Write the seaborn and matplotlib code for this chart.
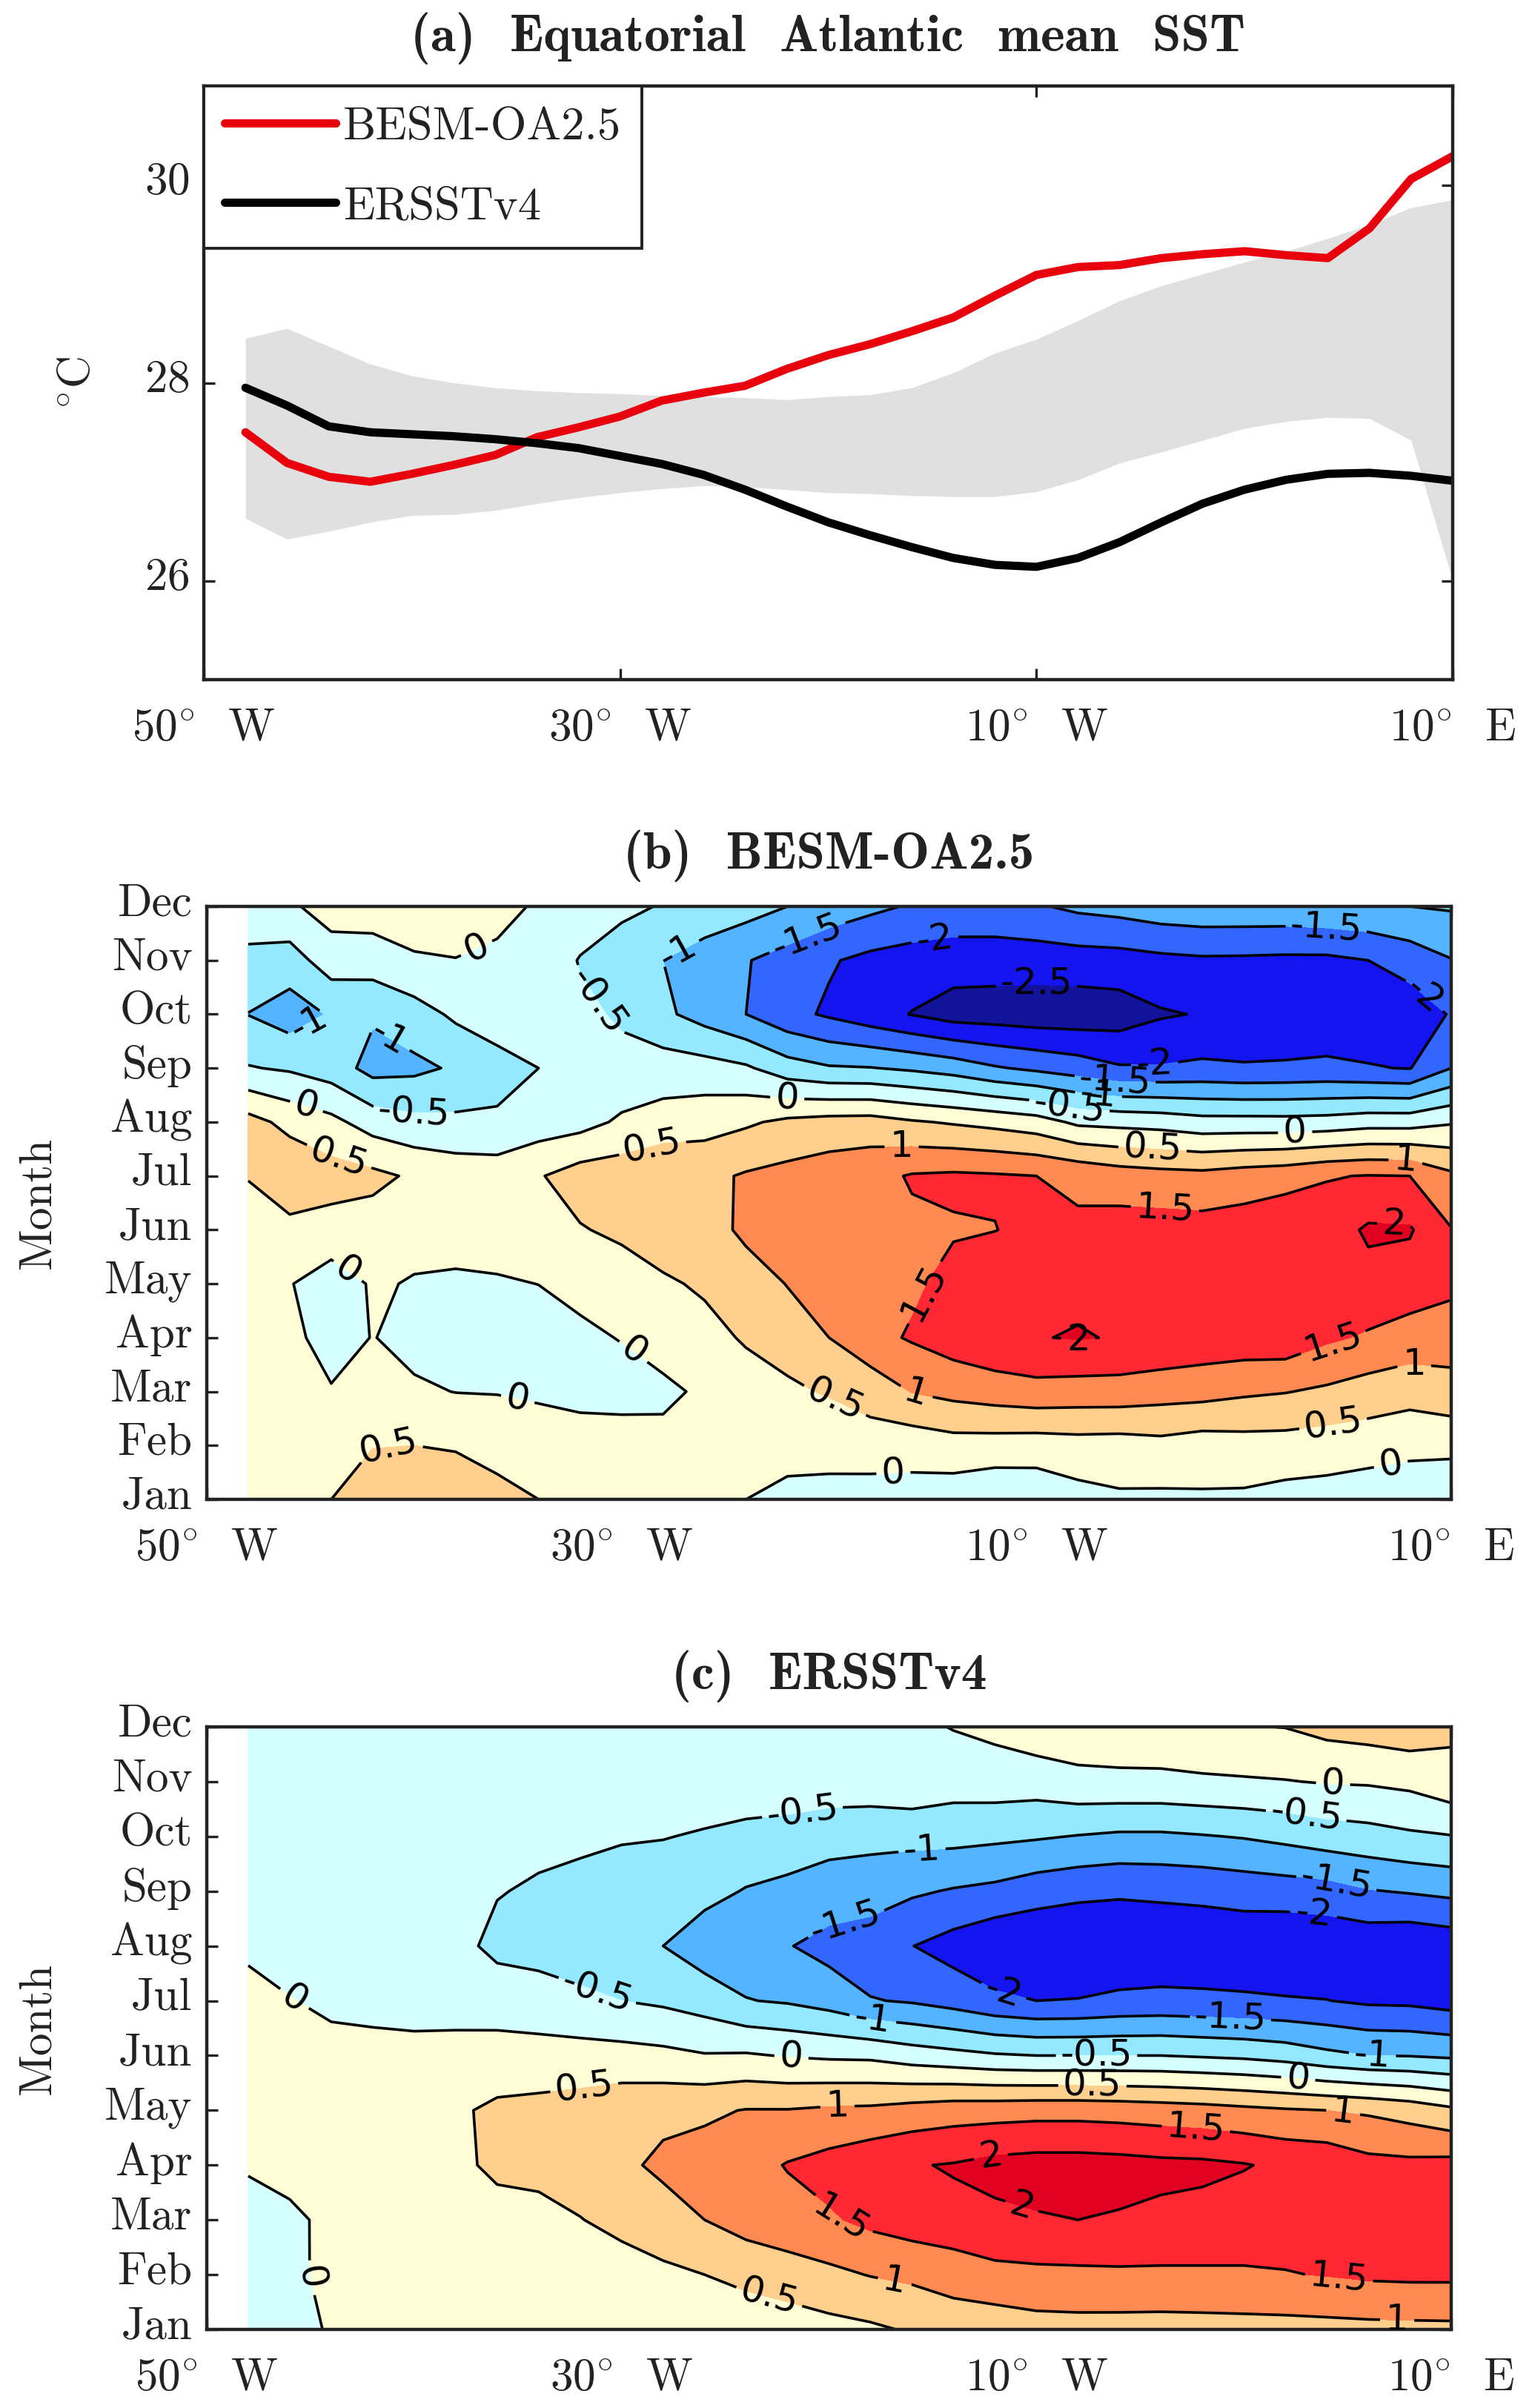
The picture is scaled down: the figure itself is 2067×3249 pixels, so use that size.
import numpy as np
import matplotlib
matplotlib.use("Agg")
import matplotlib.pyplot as plt
from matplotlib.transforms import ScaledTranslation
import seaborn as sns

# longitudes of the 2 degree grid, negative = west
lons = list(range(-48, 12, 2))
months = list(range(1, 13))
month_labels = ["Jan", "Feb", "Mar", "Apr", "May", "Jun", "Jul", "Aug", "Sep", "Oct", "Nov", "Dec"]

# panel (a)
besm_sst = [27.5, 27.19, 27.05, 27.0, 27.08, 27.17, 27.27, 27.45, 27.55, 27.66,
            27.82, 27.9, 27.97, 28.14, 28.28, 28.39, 28.52, 28.66, 28.88, 29.09,
            29.17, 29.19, 29.26, 29.3, 29.33, 29.29, 29.26, 29.56, 30.06, 30.29]
ersst_sst = [27.95, 27.77, 27.56, 27.5, 27.48, 27.46, 27.43, 27.39, 27.34, 27.26,
             27.18, 27.07, 26.92, 26.75, 26.59, 26.46, 26.34, 26.23, 26.16, 26.14,
             26.23, 26.39, 26.59, 26.78, 26.92, 27.02, 27.08, 27.09, 27.06, 27.01]
band_upper = [28.45, 28.55, 28.37, 28.19, 28.07, 28.0, 27.95, 27.92, 27.9, 27.89,
              27.87, 27.86, 27.85, 27.83, 27.86, 27.88, 27.95, 28.1, 28.3, 28.44,
              28.63, 28.83, 28.98, 29.1, 29.22, 29.33, 29.46, 29.6, 29.77, 29.85]
band_lower = [26.63, 26.42, 26.5, 26.59, 26.66, 26.67, 26.71, 26.78, 26.84, 26.89,
              26.93, 26.96, 26.95, 26.92, 26.89, 26.88, 26.86, 26.85, 26.85, 26.9,
              27.02, 27.19, 27.3, 27.42, 27.54, 27.61, 27.65, 27.64, 27.42, 26.0]

# panel (b), one row per longitude, months run Dec -> Jan
besm_anom = [
    [-.15, -.65, -1.01, -.47, .68, .52, .3, .25, .2, .15, .2, .25],
    [-.08, -.72, -1.25, -.56, .35, .9, .34, .025, .13, .25, .3, .3],
    [.22, -.25, -.95, -.74, .13, .71, .31, -.25, -.2, .035, .25, .5],
    [.25, -.25, -.94, -1.17, -.22, .62, .29, .05, .016, .2, .48, .85],
    [.2, -.04, -.72, -1.11, -.38, .43, .14, -.03, -.15, .07, .5, .72],
    [.2, -.01, -.41, -.94, -.4, .29, .26, -.1, -.25, -.01, .46, .8],
    [.15, -.1, -.3, -.645, -.44, .28, .23, -.05, -.3, -.02, .32, .66],
    [-.06, -.15, -.28, -.5, -.26, .46, .3, .005, -.22, -.08, .28, .5],
    [-.2, -.53, -.4, -.28, -.18, .73, .466, .12, -.087, -.2, .31, .35],
    [-.4, -.73, -.56, -.37, .08, .78, .6, .24, .02, -.18, .24, .2],
    [-.53, -1.0, -.9, -.26, .2, .95, .8, .42, .16, -.08, .11, .1],
    [-.72, -1.2, -1.2, -.3, .3, .88, .75, .58, .32, .063, .07, .05],
    [-.8, -1.47, -1.5, -.43, .43, 1.05, 1.12, .73, .56, .24, .12, 0],
    [-1.0, -1.7, -1.85, -.78, .6, 1.15, 1.28, 1.02, .72, .41, .16, -.12],
    [-1.2, -1.95, -2.07, -.95, .68, 1.26, 1.35, 1.3, 1.0, .55, .1, -.09],
    [-1.38, -2.13, -2.3, -.98, .7, 1.35, 1.42, 1.4, 1.35, .7, .28, -.25],
    [-1.55, -2.22, -2.52, -1.08, .55, 1.54, 1.42, 1.42, 1.55, 1.02, .2, -.2],
    [-1.65, -2.27, -2.72, -1.22, .45, 1.58, 1.46, 1.64, 1.75, 1.15, .3, -.28],
    [-1.65, -2.27, -2.75, -1.45, .35, 1.55, 1.49, 1.85, 1.9, 1.25, .28, -.4],
    [-1.55, -2.26, -2.8, -1.6, .22, 1.5, 1.62, 1.9, 1.98, 1.33, .25, -.35],
    [-1.4, -2.22, -2.8, -1.75, -.1, 1.4, 1.58, 1.9, 2.03, 1.29, .3, -.17],
    [-1.32, -2.2, -2.75, -1.95, -.15, 1.25, 1.7, 1.9, 1.97, 1.29, .28, -.07],
    [-1.2, -2.12, -2.55, -1.96, -.2, 1.18, 1.71, 1.85, 1.92, 1.21, .35, -.09],
    [-1.15, -2.07, -2.47, -1.9, -.32, 1.15, 1.69, 1.83, 1.82, 1.18, .25, -.06],
    [-1.15, -2.08, -2.4, -1.95, -.32, 1.25, 1.73, 1.85, 1.8, 1.08, .3, -.08],
    [-1.15, -2.1, -2.4, -1.93, -.33, 1.32, 1.85, 1.92, 1.82, 1.02, .3, -.17],
    [-1.1, -2.1, -2.35, -1.9, -.3, 1.47, 1.75, 1.93, 1.58, .92, .25, -.2],
    [-1.05, -2.0, -2.3, -1.97, -.2, 1.52, 2.07, 1.85, 1.44, .78, .22, -.3],
    [-1.0, -1.78, -2.3, -2.02, -.2, 1.5, 2.05, 1.75, 1.3, .68, .15, -.37],
    [-.95, -1.52, -1.96, -1.5, -.05, 1.1, 1.52, 1.63, 1.2, .84, .1, -.3],
]

# panel (c), same layout
ersst_anom = [
    [-.3, -.3, -.3, -.25, -.1, .18, .3, .25, .05, -.2, -.25, -.3],
    [-.3, -.3, -.3, -.3, -.2, .02, .35, .35, .15, -.09, -.12, -.15],
    [-.3, -.3, -.3, -.28, -.22, -.1, .16, .3, .22, .1, .13, .04],
    [-.3, -.3, -.3, -.3, -.25, -.15, .16, .35, .3, .25, .3, .25],
    [-.3, -.3, -.32, -.33, -.32, -.2, .16, .4, .35, .3, .3, .3],
    [-.28, -.3, -.33, -.38, -.38, -.22, .19, .44, .38, .33, .3, .3],
    [-.25, -.28, -.38, -.48, -.6, -.28, .24, .58, .61, .3, .25, .3],
    [-.2, -.28, -.4, -.55, -.75, -.2, .13, .67, .68, .31, .2, .2],
    [-.15, -.27, -.42, -.62, -.85, -.36, .17, .72, .8, .48, .18, .1],
    [-.1, -.25, -.46, -.72, -.95, -.5, .17, .83, .9, .68, .22, .1],
    [-.08, -.22, -.48, -.8, -1.0, -.58, .12, .88, 1.1, .79, .4, .12],
    [-.05, -.2, -.55, -.85, -1.28, -.72, .03, .92, 1.2, 1.0, .5, .2],
    [-.1, -.2, -.64, -1.03, -1.3, -.98, .05, 1.02, 1.3, 1.2, .65, .15],
    [-.15, -.2, -.7, -1.13, -1.47, -1.05, -.03, 1.02, 1.53, 1.3, .78, .22],
    [-.1, -.18, -.85, -1.2, -1.68, -1.2, -.08, 1.08, 1.68, 1.44, .89, .34],
    [-.1, -.17, -.9, -1.2, -1.85, -1.47, -.1, 1.1, 1.85, 1.62, 1.02, .42],
    [-.1, -.15, -.85, -1.43, -1.99, -1.55, -.25, 1.2, 1.97, 1.75, 1.1, .55],
    [.02, -.28, -.85, -1.54, -2.2, -1.7, -.35, 1.28, 2.03, 1.9, 1.15, .8],
    [.12, -.25, -.9, -1.62, -2.41, -1.9, -.45, 1.3, 2.15, 1.9, 1.36, .7],
    [.3, -.27, -.95, -1.78, -2.45, -2.0, -.5, 1.33, 2.2, 1.96, 1.39, .8],
    [.32, -.14, -1.02, -1.88, -2.45, -1.98, -.5, 1.33, 2.2, 2.0, 1.4, .82],
    [.35, -.12, -1.08, -1.93, -2.4, -1.9, -.5, 1.3, 2.17, 1.96, 1.42, .81],
    [.38, -.12, -1.08, -1.9, -2.38, -1.87, -.5, 1.25, 2.12, 1.9, 1.42, .8],
    [.45, -.08, -1.03, -1.87, -2.35, -1.9, -.55, 1.2, 2.1, 1.85, 1.43, .81],
    [.48, -.05, -.97, -1.8, -2.35, -1.93, -.6, 1.12, 2.03, 1.75, 1.45, .82],
    [.51, -.02, -.87, -1.75, -2.42, -1.96, -.7, 1.05, 1.9, 1.7, 1.48, .83],
    [.65, .03, -.75, -1.7, -2.38, -1.99, -.88, 1.0, 1.85, 1.68, 1.52, .85],
    [.72, .05, -.68, -1.53, -2.35, -2.08, -1.0, .93, 1.65, 1.72, 1.58, .87],
    [.8, .12, -.58, -1.46, -2.42, -2.1, -1.02, .8, 1.62, 1.7, 1.6, .88],
    [.6, .33, -.52, -1.38, -2.32, -2.2, -1.08, .6, 1.66, 1.72, 1.6, .89],
]

levels = [-3, -2.5, -2, -1.5, -1, -.5, 0, .5, 1, 1.5, 2, 2.5]
fill_colors = ["#12129A", "#1414F0", "#3366FF", "#55B4FF", "#94E8FF", "#D6FFFF",
               "#FFFDD6", "#FFCF8E", "#FF8A52", "#FF2833", "#E00020"]

# where the contour labels sit (lon, month)
besm_label_pos = [(-37, 11.23), (-31.1, 10.25), (-27.2, 11.1), (-45.2, 9.92), (-41.3, 9.49),
                  (-45.2, 8.28), (-40, 8.23), (-43.6, 7.4), (-22, 8.5), (-28.5, 7.52),
                  (-43.2, 5.24), (-29.5, 3.7), (-35, 2.87), (-41.2, 1.86),
                  (-21.05, 11.43), (-14.9, 11.39), (-10, 10.56), (3.97, 11.6), (8.7, 10.34),
                  (-4.3, 9.07), (-6.2, 8.78), (-7, 8.54), (-8.4, 8.32), (2.47, 7.84),
                  (-4.4, 7.53), (-16.5, 7.55), (7.8, 7.3), (-3.8, 6.4), (7.25, 6.05),
                  (-15.5, 4.86), (-8, 4.03), (4.3, 3.94), (8.2, 3.46), (-15.8, 2.98),
                  (-19.8, 2.76), (4.3, 2.41), (-16.9, 1.54), (7.1, 1.62)]
ersst_label_pos = [(-45.8, 7.02), (-31.2, 7.15), (-21.8, 6.07), (-31.8, 5.41), (-44.9, 1.95),
                   (-22.9, 1.57), (4.3, 10.93), (-21.3, 10.49), (3, 10.36), (-15.5, 9.64),
                   (4.46, 9.14), (-19.2, 8.43), (3.37, 8.6), (-11.6, 7.15), (-17.9, 6.62),
                   (-.64, 6.73), (6.2, 6.05), (-7.1, 6.05), (2.64, 5.66), (-7.3, 5.54),
                   (-19.6, 5.17), (4.8, 5.0), (-2.3, 4.75), (-12.2, 4.17), (-10.7, 3.25),
                   (-19.5, 2.99), (-16.8, 1.94), (4.6, 1.98), (7.4, 1.24)]

lon_ticks = [-50, -30, -10, 10]
lon_ticklabels = ["50$^{\\circ}$  W", "30$^{\\circ}$  W", "10$^{\\circ}$  W", "10$^{\\circ}$  E"]

sns.set_style("ticks")
plt.rcParams["font.family"] = ["cmr10", "DejaVu Sans"]
plt.rcParams["mathtext.fontset"] = "cm"
plt.rcParams["axes.unicode_minus"] = False
plt.rcParams["axes.formatter.use_mathtext"] = True

W, H = 2067, 3249
fig = plt.figure(figsize=(W / 100, H / 100), dpi=100)


def add_axes(top, bottom, left, right):
    return fig.add_axes([left / W, 1 - bottom / H, (right - left) / W, (bottom - top) / H])


def style_axes(ax):
    for spine in ax.spines.values():
        spine.set_linewidth(3.2)
        spine.set_color("#222222")
    ax.tick_params(direction="in", length=11, width=2.4, color="#222222", top=True, right=True,
                   labelsize=44, labelcolor="#222222")
    ax.tick_params(axis="x", pad=28)
    ax.tick_params(axis="y", pad=14)
    ax.set_xlim(-50, 10)
    ax.set_xticks(lon_ticks)
    ax.set_xticklabels(lon_ticklabels)


def lift_ytick_labels(ax):
    # the month and degree labels sit a little above their ticks
    shift = ScaledTranslation(0, 9 / 100, fig.dpi_scale_trans)
    for label in ax.get_yticklabels():
        label.set_transform(label.get_transform() + shift)


def contour_panel(ax, anom, title, label_pos):
    grid = np.array(anom).T[::-1]
    ax.contourf(lons, months, grid, levels=levels, colors=fill_colors)
    cs = ax.contour(lons, months, grid, levels=levels[1:-1], colors="black", linewidths=2.6,
                    linestyles="solid", negative_linestyles="solid")
    with plt.rc_context({"font.family": "DejaVu Sans"}):
        ax.clabel(cs, manual=label_pos, fmt=lambda v: f"{v:g}", fontsize=36, inline=True, inline_spacing=8)
    style_axes(ax)
    ax.set_ylim(1, 12)
    ax.set_yticks(months)
    ax.set_yticklabels(month_labels)
    lift_ytick_labels(ax)
    ax.set_ylabel("Month", fontsize=44, color="#222222")
    ax.yaxis.set_label_coords(-0.119, 0.5)
    ax.set_title(title, fontfamily="cmb10", fontsize=50, color="#222222", pad=37)


# -------------------- PANEL A --------------------
ax1 = add_axes(116, 917, 275, 1960)
ax1.fill_between(lons, band_lower, band_upper, color="#E0E0E0", linewidth=0)
sns.lineplot(x=lons, y=besm_sst, color="#E8000D", linewidth=8, label="BESM-OA2.5", ax=ax1)
sns.lineplot(x=lons, y=ersst_sst, color="black", linewidth=8, label="ERSSTv4", ax=ax1)
style_axes(ax1)
ax1.set_ylim(25, 31)
ax1.set_yticks([26, 28, 30])
lift_ytick_labels(ax1)
ax1.set_ylabel("$^{\\circ}$C", fontsize=44, color="#222222")
ax1.yaxis.set_label_coords(-0.084, 0.5)
ax1.set_title("(a)  Equatorial  Atlantic  mean  SST", fontfamily="cmb10", fontsize=50, color="#222222", pad=34)
leg = ax1.legend(loc="upper left", borderaxespad=0, fancybox=False, framealpha=1, edgecolor="#222222",
                 fontsize=45, handlelength=2.4, handletextpad=0.16, labelspacing=0.82,
                 borderpad=0.45, labelcolor="#222222")
leg.get_frame().set_linewidth(2.8)

# -------------------- PANELS B AND C --------------------
ax2 = add_axes(1223, 2023, 279, 1958)
contour_panel(ax2, besm_anom, "(b)  BESM-OA2.5", besm_label_pos)

ax3 = add_axes(2330, 3143, 279, 1958)
contour_panel(ax3, ersst_anom, "(c)  ERSSTv4", ersst_label_pos)

fig.savefig("out.png", dpi=100)
